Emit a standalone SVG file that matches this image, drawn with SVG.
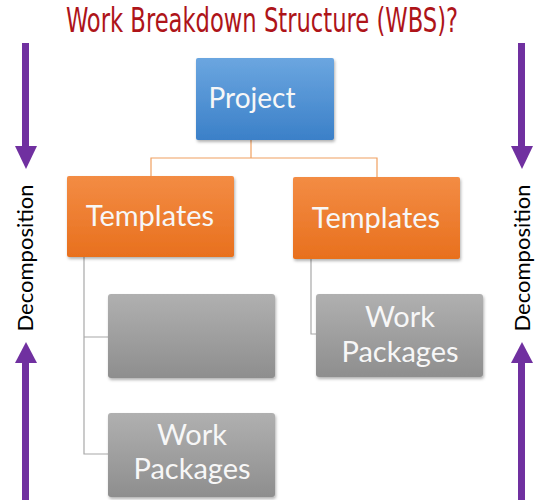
<svg xmlns="http://www.w3.org/2000/svg" width="544" height="500" viewBox="0 0 544 500">
<defs>
<linearGradient id="gBlue" x1="0" y1="0" x2="0" y2="1"><stop offset="0" stop-color="#6ba6e0"/><stop offset="1" stop-color="#3b80c8"/></linearGradient>
<linearGradient id="gOrange" x1="0" y1="0" x2="0" y2="1"><stop offset="0" stop-color="#f38c44"/><stop offset="1" stop-color="#e8701e"/></linearGradient>
<linearGradient id="gGray" x1="0" y1="0" x2="0" y2="1"><stop offset="0" stop-color="#b0b0b0"/><stop offset="1" stop-color="#8e8e8e"/></linearGradient>
<filter id="sh" x="-10%" y="-10%" width="120%" height="130%"><feDropShadow dx="1" dy="2" stdDeviation="1.5" flood-color="#000" flood-opacity="0.3"/></filter>
</defs>
<style>
.title{font-family:"DejaVu Sans Condensed","Liberation Sans",sans-serif;font-size:33px;fill:#ae1419}
.lbl{font-family:Lato,"Open Sans",sans-serif;fill:#f7f7f7;text-anchor:middle;font-size:29px}
.dec{font-family:Lato,"Open Sans",sans-serif;font-size:22px;fill:#000;text-anchor:middle}
.arr{fill:#7030a0}
.co{stroke:#f0a060;stroke-width:1.2;fill:none}
.cg{stroke:#a8a8a8;stroke-width:1.2;fill:none}
</style>
<rect width="544" height="500" fill="#fff"/>
<text class="title" transform="translate(262 32) scale(0.76 1)" text-anchor="middle" textLength="516" lengthAdjust="spacingAndGlyphs">Work Breakdown Structure (WBS)?</text>

<g id="connectors">
<path class="co" d="M251 140 V158 M151 176 V158 H377 V177"/>
<path class="cg" d="M84 257 V454 H110 M84 337 H110"/>
<path class="cg" d="M311 259 V334 H317"/>
</g>

<g id="leftArrows">
<rect class="arr" x="22" y="43" width="7" height="104"/>
<polygon class="arr" points="15,146 37,146 26,169"/>
<polygon class="arr" points="15,363 37,363 26,342"/>
<rect class="arr" x="22" y="362" width="7" height="138"/>
<text class="dec" transform="translate(33 258) rotate(-90)">Decomposition</text>
</g>
<g id="rightArrows">
<rect class="arr" x="518" y="43" width="7" height="104"/>
<polygon class="arr" points="511,146 533,146 522,169"/>
<polygon class="arr" points="511,363 533,363 522,342"/>
<rect class="arr" x="518" y="362" width="7" height="138"/>
<text class="dec" transform="translate(530 258) rotate(-90)">Decomposition</text>
</g>

<g id="project">
<rect x="196" y="58" width="138" height="82" rx="2" fill="url(#gBlue)" filter="url(#sh)"/>
<text class="lbl" x="252" y="108" style="font-size:28px">Project</text>
</g>
<g id="templatesLeft">
<rect x="67" y="176" width="167" height="81" rx="2" fill="url(#gOrange)" filter="url(#sh)"/>
<text class="lbl" x="150" y="226">Templates</text>
</g>
<g id="templatesRight">
<rect x="293" y="177" width="167" height="82" rx="2" fill="url(#gOrange)" filter="url(#sh)"/>
<text class="lbl" x="376" y="228">Templates</text>
</g>
<g id="grayEmpty">
<rect x="108" y="294" width="167" height="84" rx="3" fill="url(#gGray)" filter="url(#sh)"/>
</g>
<g id="workPackagesLeft">
<rect x="108" y="413" width="167" height="84" rx="3" fill="url(#gGray)" filter="url(#sh)"/>
<text class="lbl" x="192" y="445">Work</text>
<text class="lbl" x="192" y="479">Packages</text>
</g>
<g id="workPackagesRight">
<rect x="316" y="294" width="167" height="83" rx="3" fill="url(#gGray)" filter="url(#sh)"/>
<text class="lbl" x="400" y="327">Work</text>
<text class="lbl" x="400" y="362">Packages</text>
</g>
</svg>
